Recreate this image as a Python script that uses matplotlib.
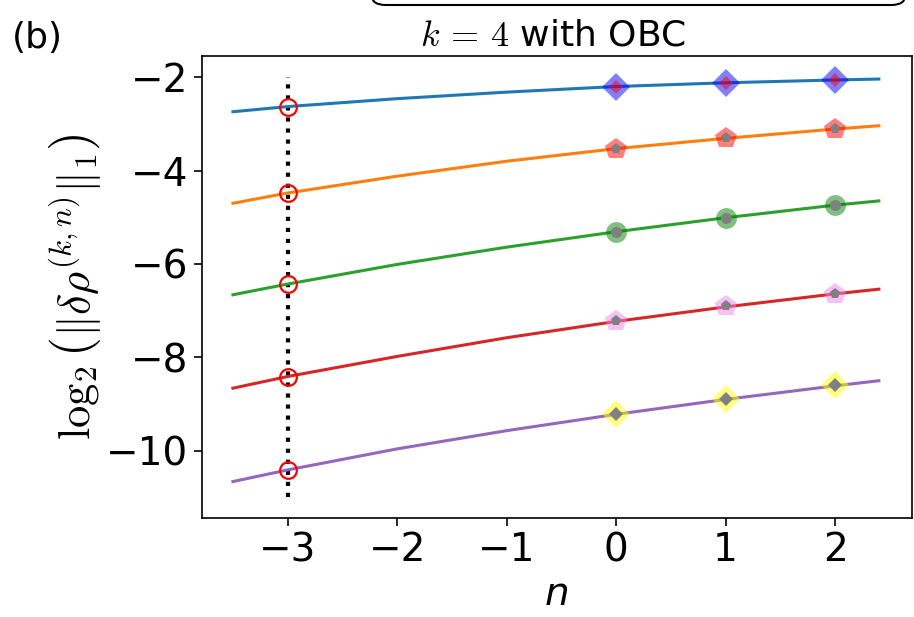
import matplotlib
matplotlib.use("Agg")
import matplotlib.pyplot as plt
from matplotlib.patches import FancyBboxPatch
import numpy as np

plt.rcParams['mathtext.fontset'] = 'cm'
plt.rcParams['font.family'] = ['DejaVu Sans']

# fitted curves
n_line = [-3.5, -3, -2, -1, 0, 1, 2, 2.4]
curve_1 = [-2.74, -2.63, -2.46, -2.32, -2.20, -2.12, -2.06, -2.04]
curve_2 = [-4.70, -4.48, -4.12, -3.80, -3.53, -3.31, -3.11, -3.04]
curve_3 = [-6.66, -6.43, -6.01, -5.64, -5.31, -5.01, -4.74, -4.65]
curve_4 = [-8.66, -8.41, -7.98, -7.58, -7.23, -6.92, -6.64, -6.54]
curve_5 = [-10.66, -10.41, -9.96, -9.57, -9.22, -8.90, -8.61, -8.50]

# measured points
n_pts = [0, 1, 2]
pts_1 = [-2.20, -2.13, -2.06]
pts_2 = [-3.54, -3.31, -3.11]
pts_3 = [-5.31, -5.01, -4.73]
pts_4 = [-7.23, -6.91, -6.65]
pts_5 = [-9.22, -8.90, -8.60]

# extrapolated values at n = -3
n_extra = -3
extra = [-2.63, -4.48, -6.43, -8.41, -10.41]

xticks = [-3, -2, -1, 0, 1, 2]
yticks = [-2, -4, -6, -8, -10]

W, H = 914, 617
fig = plt.figure(figsize=(W / 100, H / 100), dpi=100)
ax = fig.add_axes([201.7 / W, 1 - 518 / H, 710 / W, 462.3 / H])

curves = [curve_1, curve_2, curve_3, curve_4, curve_5]
pts = [pts_1, pts_2, pts_3, pts_4, pts_5]
line_colors = ['C0', 'C1', 'C2', 'C3', 'C4']
outer = [('D', 'blue', 14), ('p', 'red', 16), ('o', 'green', 15), ('p', 'violet', 16), ('D', 'yellow', 14)]
inner = [('D', 'red', 7), ('p', 'gray', 8), ('o', 'gray', 8), ('p', 'gray', 8), ('D', 'gray', 7)]

ax.vlines(n_extra, -11, -2, colors='black', linestyles=':', linewidth=3, zorder=1)

for c, p, lc, o, i in zip(curves, pts, line_colors, outer, inner):
    ax.plot(n_line, c, color=lc, linewidth=2.2, zorder=2)
    ax.plot(n_pts, p, linestyle='none', marker=o[0], color=o[1], alpha=0.5,
            markersize=o[2], markeredgewidth=0, zorder=3)
    ax.plot(n_pts, p, linestyle='none', marker=i[0], color=i[1], alpha=0.5 if i[1] == 'red' else 1.0,
            markersize=i[2], markeredgewidth=0, zorder=4)

ax.plot([n_extra] * len(extra), extra, linestyle='none', marker='o', markersize=12,
        markerfacecolor='none', markeredgecolor='red', markeredgewidth=1.6, zorder=5)

ax.set_xlim(-3.785, 2.70)
ax.set_ylim(-11.44, -1.54)
ax.set_xticks(xticks)
ax.set_yticks(yticks)
ax.tick_params(labelsize=28, length=6, width=1.2)
for s in ax.spines.values():
    s.set_linewidth(1.2)

ax.set_xlabel('n', fontsize=28, fontstyle='italic', labelpad=4)
ax.set_ylabel(r'$\log_2\left(\|\delta\rho^{(k,n)}\|_1\right)$', fontsize=32, labelpad=2)

fig.text(553 / W, 1 - 35 / H, r'$k\,=\,4$ with OBC', fontsize=26, ha='center', va='center')
fig.text(12 / W, 1 - 38 / H, '(b)', fontsize=26, ha='left', va='center')

box = FancyBboxPatch((372 / W, 1 - 5 / H), (905 - 372) / W, 40 / H,
                     boxstyle='round,pad=0,rounding_size=0.015', transform=fig.transFigure,
                     facecolor='white', edgecolor='black', linewidth=1.5, clip_on=False)
fig.patches.append(box)

fig.savefig('out.png', dpi=100)
